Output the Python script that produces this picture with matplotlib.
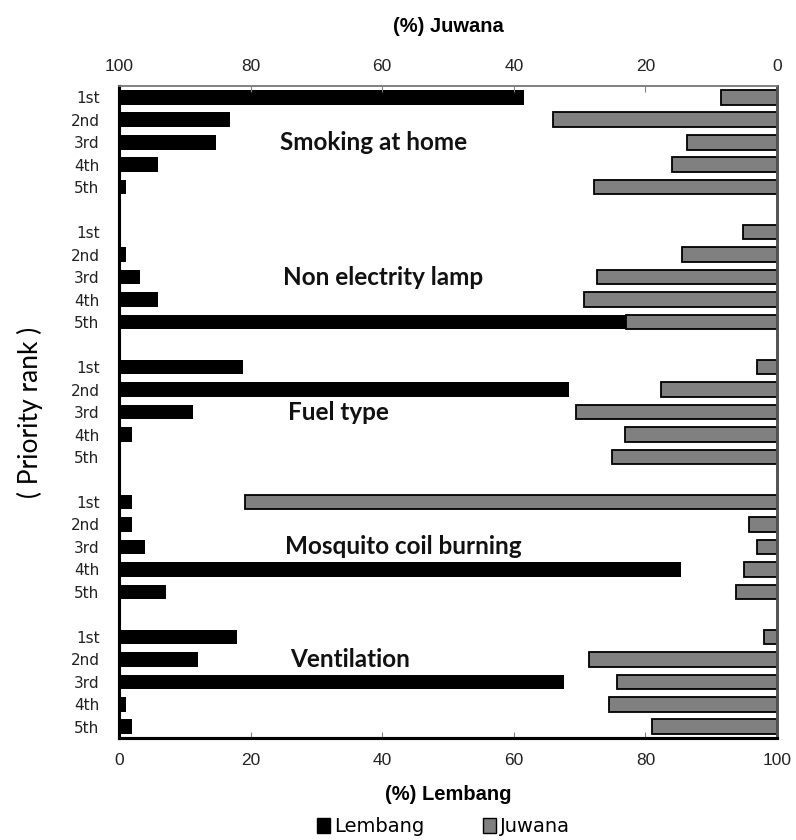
"""
Ranking de prioridades: Lembang (barras negras) vs Juwana (barras grises)
"""
import numpy as np
import matplotlib.pyplot as plt
from matplotlib.patches import Patch

# datos (%)
grupos = ["Smoking at home", "Non electrity lamp", "Fuel type",
          "Mosquito coil burning", "Ventilation"]
rangos = ["1st", "2nd", "3rd", "4th", "5th"]

lembang_smoking = [61.6, 16.8, 14.8, 5.9, 1.1]
juwana_smoking = [8.5, 34.0, 13.7, 16.0, 27.8]
lembang_lamp = [0.0, 1.1, 3.2, 5.9, 89.8]
juwana_lamp = [5.1, 14.5, 27.4, 29.3, 23.0]
lembang_fuel = [18.9, 68.4, 11.2, 2.0, 0.0]
juwana_fuel = [3.0, 17.7, 30.6, 23.1, 25.1]
lembang_mosq = [2.0, 2.0, 3.9, 85.4, 7.1]
juwana_mosq = [80.8, 4.2, 3.0, 5.0, 6.2]
lembang_vent = [18.0, 12.0, 67.6, 1.1, 2.0]
juwana_vent = [1.9, 28.6, 24.3, 25.5, 19.0]

lembang = [lembang_smoking, lembang_lamp, lembang_fuel, lembang_mosq, lembang_vent]
juwana = [juwana_smoking, juwana_lamp, juwana_fuel, juwana_mosq, juwana_vent]

# fila del texto de cada grupo (indice dentro del grupo)
fila_texto = [2, 2, 2, 2, 1]
x_texto = [24.4, 24.9, 25.7, 25.2, 26.0]

fig = plt.figure(figsize=(7.96, 8.40), dpi=100)
ax = fig.add_axes([0.1495, 0.1214, 0.8266, 0.7762])
ax2 = ax.twiny()

paso = len(rangos) + 1
alto = 0.65
ticks_y, etiquetas_y = [], []
for g in range(len(grupos)):
    pos = np.arange(len(rangos)) + g * paso
    ax.barh(pos, lembang[g], height=alto, color="black", zorder=2)
    ax2.barh(pos, juwana[g], height=alto, color="#808080",
             edgecolor="black", linewidth=1.3, zorder=2)
    ticks_y.extend(pos)
    etiquetas_y.extend(rangos)
    ax2.text(100 - x_texto[g], pos[fila_texto[g]], grupos[g], family="Lato",
             fontsize=17.5, fontweight="bold", color="#111111",
             ha="left", va="center", zorder=3)

total = len(grupos) * paso - 1
ax.set_ylim(total - 0.5, -0.5)
ax.set_xlim(0, 100)
ax2.set_xlim(100, 0)

ax.set_yticks(ticks_y)
ax.set_yticklabels(etiquetas_y, family="DejaVu Sans", fontsize=11, color="#222222")
ax.tick_params(axis="y", length=0, pad=14)

ax.set_xticks(np.arange(0, 101, 20))
ax2.set_xticks(np.arange(0, 101, 20))
ax.tick_params(axis="x", direction="in", length=4, color="#808080",
               labelsize=12.5, pad=11, labelcolor="#222222")
ax2.tick_params(axis="x", direction="in", length=4, color="#808080",
                labelsize=12.5, pad=9, labelcolor="#222222")
for a in (ax, ax2):
    for lbl in a.get_xticklabels():
        lbl.set_family("Liberation Sans")

for a in (ax, ax2):
    a.spines["left"].set_color("black")
    a.spines["left"].set_linewidth(2.2)
    a.spines["bottom"].set_color("black")
    a.spines["bottom"].set_linewidth(2.2)
    a.spines["top"].set_color("#808080")
    a.spines["top"].set_linewidth(1.2)
    a.spines["right"].set_color("#555555")
    a.spines["right"].set_linewidth(2.0)

ax.set_xlabel("(%) Lembang", family="Liberation Sans", fontsize=14.5,
              fontweight="bold", labelpad=12)
ax2.set_xlabel("(%) Juwana", family="Liberation Sans", fontsize=14.5,
               fontweight="bold", labelpad=19)
ax.set_ylabel("( Priority rank )", family="Lato", fontsize=19, labelpad=20)

handles = [Patch(facecolor="black", edgecolor="black"),
           Patch(facecolor="#808080", edgecolor="black")]
fig.legend(handles, ["Lembang", "Juwana"], loc="center",
           bbox_to_anchor=(0.557, 0.016), ncol=2, frameon=False,
           prop={"family": "DejaVu Sans", "size": 14},
           handlelength=0.7, handleheight=0.8, handletextpad=0.2,
           columnspacing=3.0, borderpad=0.1)

fig.savefig("out.png", dpi=100)
